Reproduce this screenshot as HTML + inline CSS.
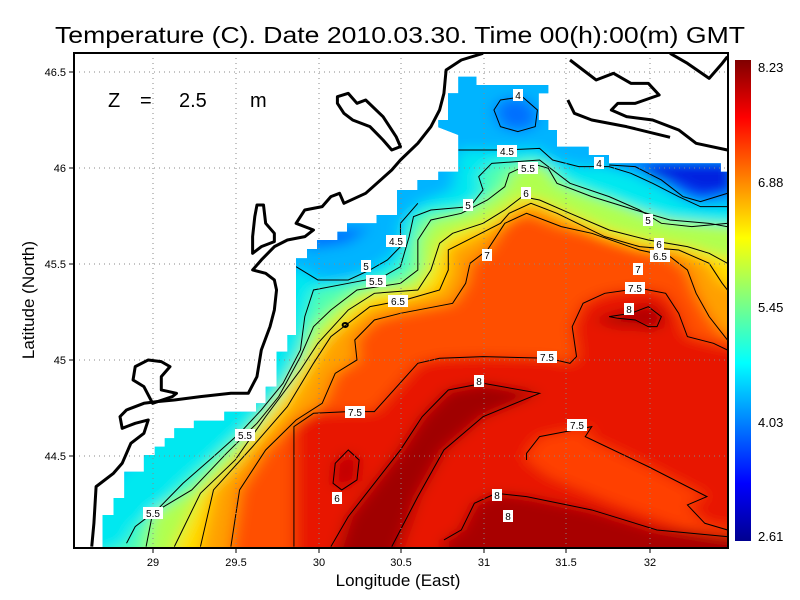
<!DOCTYPE html>
<html><head><meta charset="utf-8"><style>
html,body{margin:0;padding:0;background:#fff;width:800px;height:600px;overflow:hidden}
svg text{font-family:"Liberation Sans",sans-serif}
</style></head><body>
<svg width="800" height="600" viewBox="0 0 800 600" xmlns="http://www.w3.org/2000/svg">
<defs>
<clipPath id="wc"><polygon points="102.6,548 102.6,515 113.5,515 113.5,498 124.3,498 124.3,471.7 143.9,471.7 143.9,455 154.8,455 154.8,446.7 164.8,446.7 164.8,438.3 174.3,438.3 174.3,428.3 193.9,428.3 193.9,420.7 224.3,420.7 224.3,411.7 256,411.7 256,403.3 265.7,403.3 265.7,386.7 276.5,386.7 276.5,351.7 287.4,351.7 287.4,335 296,335 296,258.3 307,258.3 307,249 317,249 317,240 337.4,240 337.4,231.7 347,231.7 347,223.3 376.5,223.3 376.5,215 397,215 397,190 417.4,190 417.4,180 438.3,180 438.3,171.7 458.3,171.7 458.3,135 438.3,127.3 438.3,120 448,120 448,93.3 458.3,93.3 458.3,76.7 476.5,76.7 476.5,85 548.3,85 548.3,93.3 538.7,93.3 538.7,120 548.3,120 548.3,130 557,130 557,146.7 588.7,146.7 588.7,155 609,155 609,163.3 720.8,163.3 720.8,171.7 727,171.7 727,548"/></clipPath>
<filter id="bl" x="-10%" y="-10%" width="120%" height="120%"><feGaussianBlur stdDeviation="18"/></filter>
<linearGradient id="cb" x1="0" y1="0" x2="0" y2="1">
<stop offset="0" stop-color="#800000"/><stop offset="0.12" stop-color="#ff0000"/><stop offset="0.37" stop-color="#ffff00"/><stop offset="0.5" stop-color="#80ff80"/><stop offset="0.63" stop-color="#00ffff"/><stop offset="0.88" stop-color="#0000ff"/><stop offset="1" stop-color="#00008f"/>
</linearGradient>
</defs>
<g clip-path="url(#wc)">
<rect x="70" y="50" width="660" height="500" fill="#00b4ff"/>
<g filter="url(#bl)" transform="translate(70,50) scale(0.4348,0.3333)">
<rect x="-40" y="-40" width="1600" height="1600" fill="#00b4ff"/>
<polygon fill="#0050ff" points="1240,345 1300,350 1360,390 1410,440 1450,455 1530,430 1530,330 1240,330"/>
<polygon fill="#0020e0" points="1330,380 1400,400 1450,430 1530,420 1530,340 1330,340"/>
<polygon fill="#0070ff" points="975,180 990,150 1040,140 1075,180 1070,230 1030,245 990,230"/>
<polygon fill="#0070ff" points="540,600 640,580 690,530 560,540"/>
<polygon fill="#0090ff" points="150,1300 250,1180 300,1150 200,1160 120,1250"/>
<polygon fill="#00e8f0" points="-20,1560 -20,1480 520,650 570,690 640,690 690,660 730,630 760,590 760,520 800,460 880,420 893,300 1000,300 1080,295 1110,330 1170,350 1240,350 1290,370 1340,400 1400,440 1450,470 1560,470 1560,1560"/>
<polygon fill="#50ffb0" points="-20,1560 130,1480 150,1430 200,1380 260,1300 330,1220 390,1150 440,1080 490,1000 530,900 540,800 560,720 640,700 720,680 760,650 780,560 790,500 830,480 920,470 950,420 940,380 970,340 1080,330 1110,360 1150,400 1240,440 1310,480 1360,520 1430,530 1560,520 1560,1560"/>
<polygon fill="#b0ff50" points="175,1560 175,1490 190,1390 280,1320 360,1210 430,1120 480,1040 530,920 560,830 600,780 660,720 760,700 800,660 800,570 830,510 900,490 960,450 1000,410 1010,370 1060,340 1100,355 1120,400 1200,440 1300,480 1380,510 1470,520 1560,530 1560,1560"/>
<polygon fill="#ffe000" points="240,1560 240,1490 300,1330 380,1230 450,1100 530,960 570,880 640,780 700,730 800,720 830,660 850,580 880,550 950,520 1000,480 1040,440 1080,450 1150,490 1240,540 1330,570 1420,590 1470,610 1560,640 1560,1560"/>
<polygon fill="#ffa000" points="300,1560 300,1490 330,1320 420,1190 500,1070 560,940 600,860 690,770 770,750 850,720 870,660 870,600 930,560 990,520 1010,490 1060,460 1120,490 1230,560 1310,590 1400,600 1470,640 1500,700 1560,720 1560,1560"/>
<polygon fill="#ff5000" points="370,1560 370,1490 390,1320 450,1200 520,1110 580,1060 610,970 660,930 655,870 700,810 760,790 880,760 910,700 920,640 960,600 1000,520 1050,490 1130,530 1200,550 1310,600 1380,620 1420,660 1440,730 1470,800 1500,850 1560,870 1560,1560"/>
<polygon fill="#e81500" points="515,1560 515,1130 560,1090 640,1085 700,1085 800,940 850,925 950,920 1100,925 1150,940 1165,920 1155,830 1180,760 1230,730 1310,715 1370,730 1400,790 1420,860 1480,880 1560,900 1560,1560"/>
<polygon fill="#ff4000" points="1050,1210 1080,1160 1200,1130 1185,1160 1330,1250 1465,1340 1420,1365 1460,1420 1560,1440 1560,1470 1400,1430 1250,1360 1100,1280 1050,1230"/>
<polygon fill="#a00000" points="1080,1030 950,1000 870,1020 810,1100 760,1200 700,1300 640,1400 600,1560 740,1560 800,1340 860,1200 950,1100"/>
<polygon fill="#a80000" points="860,1560 860,1470 900,1440 930,1360 980,1330 1050,1340 1200,1380 1350,1440 1560,1460 1560,1560"/>
<polygon fill="#b00000" points="1200,810 1290,780 1330,760 1370,800 1350,840 1300,830 1260,830"/>
<polygon fill="#c00000" points="610,1240 640,1200 665,1230 660,1290 625,1320 605,1300"/>
</g>
<g transform="translate(70,50) scale(0.4348,0.3333)" fill="none" stroke="#000" stroke-width="1">
<polyline vector-effect="non-scaling-stroke" points="1240,345 1300,350 1360,390 1410,440 1450,455 1512,430"/>
<polygon vector-effect="non-scaling-stroke" points="975,180 990,150 1040,140 1075,180 1070,230 1030,245 990,230"/>
<polyline vector-effect="non-scaling-stroke" points="520,650 570,690 640,690 690,660 730,630 760,590 760,520 800,460"/>
<polyline vector-effect="non-scaling-stroke" points="893,300 1000,300 1080,295 1110,330 1170,350 1240,350 1290,370 1340,400 1400,440 1450,470 1512,470"/>
<polyline vector-effect="non-scaling-stroke" points="130,1480 150,1430 200,1380 260,1300 330,1220 390,1150 440,1080 490,1000 530,900 540,800 560,720 640,700 720,680 760,650 780,560 790,500 830,480 920,470 950,420 940,380 970,340 1080,330 1110,360 1150,400 1240,440 1310,480 1360,520 1430,530 1512,520"/>
<polyline vector-effect="non-scaling-stroke" points="175,1490 190,1390 280,1320 360,1210 430,1120 480,1040 530,920 560,830 600,780 660,720 760,700 800,660 800,570 830,510 900,490 960,450 1000,410 1010,370 1060,340 1100,355 1120,400 1200,440 1300,480 1380,510 1470,520 1512,530"/>
<polyline vector-effect="non-scaling-stroke" points="240,1490 300,1330 380,1230 450,1100 530,960 570,880 640,780 700,730 800,720 830,660 850,580 880,550 950,520 1000,480 1040,440 1080,450 1150,490 1240,540 1330,570 1420,590 1470,610 1512,640"/>
<polyline vector-effect="non-scaling-stroke" points="300,1490 330,1320 420,1190 500,1070 560,940 600,860 690,770 770,750 850,720 870,660 870,600 930,560 990,520 1010,490 1060,460 1120,490 1230,560 1310,590 1400,600 1470,640 1500,700 1512,720"/>
<polyline vector-effect="non-scaling-stroke" points="370,1490 390,1320 450,1200 520,1110 580,1060 610,970 660,930 655,870 700,810 760,790 880,760 910,700 920,640 960,600 1000,520 1050,490 1130,530 1200,550 1310,600 1380,620 1420,660 1440,730 1470,800 1500,850 1512,870"/>
<polyline vector-effect="non-scaling-stroke" points="515,1490 515,1130 560,1090 640,1085 700,1085 800,940 850,925 950,920 1100,925 1150,940 1165,920 1155,830 1180,760 1230,730 1310,715 1370,730 1400,790 1420,860 1480,880 1512,900"/>
<polyline vector-effect="non-scaling-stroke" points="1050,1230 1050,1210 1080,1160 1200,1130 1185,1160 1330,1250 1465,1340 1420,1365 1460,1420 1512,1440"/>
<polyline vector-effect="non-scaling-stroke" points="600,1490 640,1400 700,1300 760,1200 810,1100 870,1020 950,1000 1080,1030 950,1100 860,1200 800,1340 740,1490"/>
<polyline vector-effect="non-scaling-stroke" points="860,1470 900,1440 930,1360 980,1330 1050,1340 1200,1380 1350,1440 1512,1460"/>
<polygon vector-effect="non-scaling-stroke" points="1240,800 1290,790 1330,770 1360,800 1350,830 1330,830 1300,810 1260,805"/>
<polygon vector-effect="non-scaling-stroke" points="610,1240 640,1200 665,1230 660,1290 625,1320 605,1300"/>
</g>
</g>
<g stroke="#888" stroke-width="1" stroke-dasharray="1,4">
<line x1="153" y1="53" x2="153" y2="548"/><line x1="236" y1="53" x2="236" y2="548"/><line x1="319" y1="53" x2="319" y2="548"/><line x1="401" y1="53" x2="401" y2="548"/><line x1="484" y1="53" x2="484" y2="548"/><line x1="566" y1="53" x2="566" y2="548"/><line x1="650" y1="53" x2="650" y2="548"/>
<line x1="74" y1="72" x2="728" y2="72"/><line x1="74" y1="168" x2="728" y2="168"/><line x1="74" y1="264" x2="728" y2="264"/><line x1="74" y1="360" x2="728" y2="360"/><line x1="74" y1="456" x2="728" y2="456"/>
</g>
<g transform="translate(70,50) scale(0.4348,0.3333)" fill="none" stroke="#000" stroke-width="3" stroke-linejoin="round">
<polyline vector-effect="non-scaling-stroke" points="50,1490 55,1420 60,1310 100,1270 120,1240 140,1180 170,1150 180,1110 150,1120 120,1135 115,1100 130,1080 170,1060 200,1055 240,1050 300,1040 370,1030 410,1030 430,980 440,900 460,830 470,780 475,720 470,690 450,670 420,660 440,630 470,590 500,570 540,560 560,540 520,520 540,480 580,470 600,440 620,430 630,460 680,430 740,360 760,330 800,280 830,230 850,180 860,130 865,60 900,30 950,10"/>
<polygon vector-effect="non-scaling-stroke" points="615,140 640,130 660,160 680,150 720,200 750,260 760,290 740,300 720,270 690,230 650,210 630,190 615,160"/>
<polygon vector-effect="non-scaling-stroke" points="145,990 150,950 180,930 210,935 230,950 210,980 210,1020 245,1030 235,1040 190,1060 170,1010"/>
<polygon vector-effect="non-scaling-stroke" points="430,465 445,465 450,520 470,550 470,575 440,590 420,610 420,560 425,500"/>
<polyline vector-effect="non-scaling-stroke" points="1150,30 1180,60 1210,90 1250,70 1290,100 1330,100 1355,135 1300,160 1260,160 1245,180 1280,200 1340,210 1400,240 1440,280 1512,300"/>
<polyline vector-effect="non-scaling-stroke" points="1145,150 1160,190 1200,210 1280,230 1380,262"/>
<polyline vector-effect="non-scaling-stroke" points="1380,10 1420,40 1470,85 1500,40 1512,20"/>
<circle vector-effect="non-scaling-stroke" cx="633" cy="825" r="6" stroke-width="2"/>
</g>
<g font-size="10" text-anchor="middle">
<g fill="#fff"><rect x="513" y="89" width="10" height="12"/><rect x="497" y="145" width="20" height="12"/><rect x="518" y="162" width="20" height="12"/><rect x="594" y="157" width="10" height="12"/><rect x="521" y="187" width="10" height="12"/><rect x="463" y="199" width="10" height="12"/><rect x="643" y="214" width="10" height="12"/><rect x="654" y="238" width="10" height="12"/><rect x="650" y="250" width="20" height="12"/><rect x="633" y="263" width="10" height="12"/><rect x="625" y="282" width="20" height="12"/><rect x="624" y="303" width="10" height="12"/><rect x="386" y="235" width="20" height="12"/><rect x="361" y="260" width="10" height="12"/><rect x="366" y="275" width="20" height="12"/><rect x="388" y="295" width="20" height="12"/><rect x="482" y="249" width="10" height="12"/><rect x="537" y="351" width="20" height="12"/><rect x="474" y="375" width="10" height="12"/><rect x="345" y="406" width="20" height="12"/><rect x="567" y="419" width="20" height="12"/><rect x="235" y="429" width="20" height="12"/><rect x="332" y="492" width="10" height="12"/><rect x="492" y="489" width="10" height="12"/><rect x="503" y="510" width="10" height="12"/><rect x="143" y="507" width="20" height="12"/></g>
<text x="518" y="99">4</text><text x="507" y="155">4.5</text><text x="528" y="172">5.5</text><text x="599" y="167">4</text><text x="526" y="197">6</text><text x="468" y="209">5</text><text x="648" y="224">5</text><text x="659" y="248">6</text><text x="660" y="260">6.5</text><text x="638" y="273">7</text><text x="635" y="292">7.5</text><text x="629" y="313">8</text><text x="396" y="245">4.5</text><text x="366" y="270">5</text><text x="376" y="285">5.5</text><text x="398" y="305">6.5</text><text x="487" y="259">7</text><text x="547" y="361">7.5</text><text x="479" y="385">8</text><text x="355" y="416">7.5</text><text x="577" y="429">7.5</text><text x="245" y="439">5.5</text><text x="337" y="502">6</text><text x="497" y="499">8</text><text x="508" y="520">8</text><text x="153" y="517">5.5</text>
</g>
<rect x="74" y="53" width="654" height="495" fill="none" stroke="#000" stroke-width="2"/>
<g stroke="#000" stroke-width="1">
<line x1="153" y1="548" x2="153" y2="553"/><line x1="236" y1="548" x2="236" y2="553"/><line x1="319" y1="548" x2="319" y2="553"/><line x1="401" y1="548" x2="401" y2="553"/><line x1="484" y1="548" x2="484" y2="553"/><line x1="566" y1="548" x2="566" y2="553"/><line x1="650" y1="548" x2="650" y2="553"/>
<line x1="69" y1="72" x2="74" y2="72"/><line x1="69" y1="168" x2="74" y2="168"/><line x1="69" y1="264" x2="74" y2="264"/><line x1="69" y1="360" x2="74" y2="360"/><line x1="69" y1="456" x2="74" y2="456"/>
</g>
<g font-size="11" text-anchor="middle">
<text x="153" y="566">29</text><text x="236" y="566">29.5</text><text x="319" y="566">30</text><text x="401" y="566">30.5</text><text x="484" y="566">31</text><text x="566" y="566">31.5</text><text x="650" y="566">32</text>
</g>
<g font-size="11" text-anchor="end">
<text x="66" y="76">46.5</text><text x="66" y="172">46</text><text x="66" y="268">45.5</text><text x="66" y="364">45</text><text x="66" y="460">44.5</text>
</g>
<text x="400" y="43" font-size="23" text-anchor="middle" textLength="690" lengthAdjust="spacingAndGlyphs">Temperature (C). Date 2010.03.30. Time 00(h):00(m) GMT</text>
<g font-size="20"><text x="108" y="107">Z</text><text x="140" y="107">=</text><text x="179" y="107">2.5</text><text x="250" y="107">m</text></g>
<text x="398" y="586" font-size="17" text-anchor="middle">Longitude (East)</text>
<text transform="translate(34,300) rotate(-90)" font-size="17" text-anchor="middle">Latitude (North)</text>
<rect x="735" y="60" width="16" height="481" fill="url(#cb)"/>
<g font-size="13">
<text x="758" y="72">8.23</text><text x="758" y="187">6.88</text><text x="758" y="312">5.45</text><text x="758" y="427">4.03</text><text x="758" y="541">2.61</text>
</g>
</svg>
</body></html>
